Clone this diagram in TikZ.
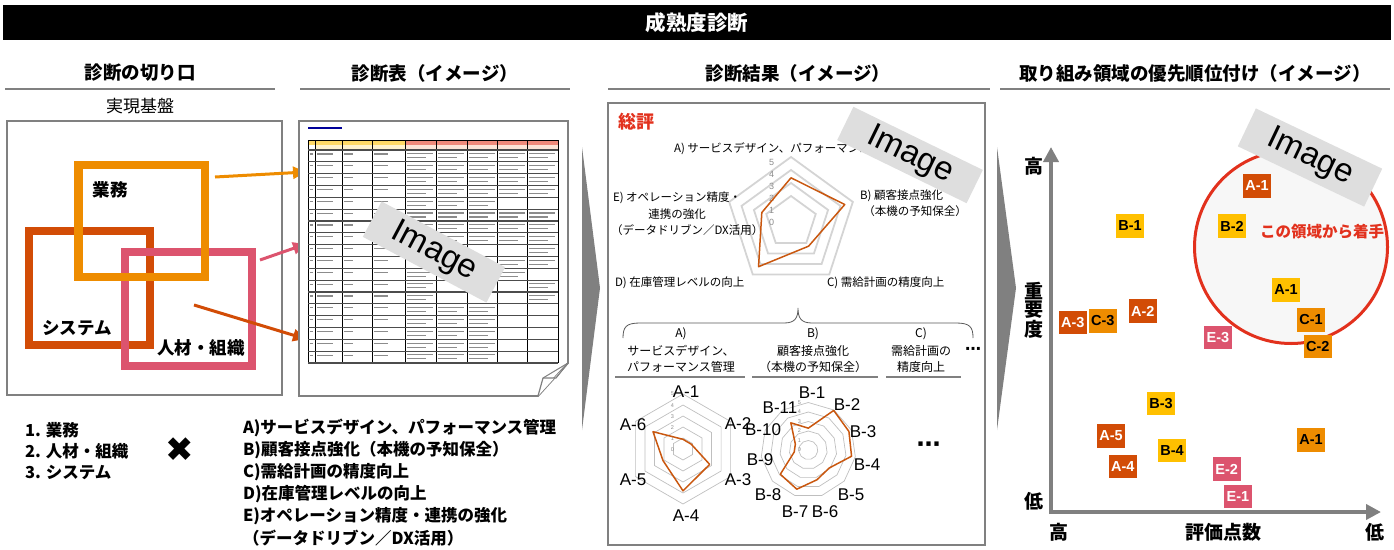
\documentclass[tikz,border=0pt]{standalone}
\usepackage{fontspec}
\setmainfont{Noto Sans CJK JP}
\newfontfamily\lib{Liberation Sans}
\newfontfamily\dejavu{DejaVu Sans}
\usetikzlibrary{arrows.meta}
\definecolor{cOr}{HTML}{EE8C00}
\definecolor{cRd}{HTML}{D24C06}
\definecolor{cPk}{HTML}{DC546E}
\definecolor{cYe}{HTML}{FFC000}
\definecolor{cGr}{HTML}{808080}
\definecolor{cLn}{HTML}{C9570F}
\definecolor{cRed}{HTML}{E2311D}
\definecolor{cHy}{HTML}{FFD966}
\definecolor{cHr}{HTML}{F08A7A}
\definecolor{cHy2}{HTML}{FFF2CC}
\definecolor{cHr2}{HTML}{FCE4D6}
\newcommand{\myfs}[1]{\fontsize{#1}{#1}\selectfont}
\tikzset{
 hdr/.style={font=\bfseries\myfs{18.5}},
 hline/.style={draw=black!50, line width=2pt},
 subline/.style={draw=black!50, line width=1.4pt},
 stamp/.style={fill=black!13, minimum width=140pt, minimum height=40pt, font=\lib\myfs{33}},
 arr/.style={line width=3pt, -{Triangle[length=13pt,width=12pt]}},
 rlab/.style={font=\myfs{11.5}, anchor=west},
 rlabc/.style={font=\myfs{11.5}},
 sublab/.style={font=\myfs{12}},
 alab/.style={font=\lib\myfs{17}},
 tinyA/.style={font=\lib\myfs{5.5}, text=black!45},
 tinyP/.style={font=\lib\myfs{9}, text=black!45},
 dataL/.style={draw=cLn, line width=1.5pt, line join=round},
 ringA/.style={draw=black!25, line width=0.7pt},
 ringP/.style={draw=black!17, line width=1.8pt},
 tag/.style={minimum width=28pt, minimum height=23.5pt, font=\lib\bfseries\myfs{14.5}},
 tagR/.style={tag, fill=cRd, text=white},
 tagY/.style={tag, fill=cYe, text=black},
 tagO/.style={tag, fill=cOr, text=black},
 tagP/.style={tag, fill=cPk, text=white},
 axlab/.style={font=\bfseries\myfs{19}},
 listS/.style={font=\bfseries\myfs{16.5}, anchor=west},
 sqlab/.style={font=\bfseries\myfs{17.5}},
 cellbar/.style={draw=black!45, line width=1.1pt},
 axarr/.style={draw=cGr, line width=4.3pt, -{Triangle[length=15pt,width=15pt]}},
}
\begin{document}
\begin{tikzpicture}[x=1pt,y=-1pt, every node/.style={inner sep=0pt, outer sep=0pt}]
\useasboundingbox (0,0) rectangle (1394,549);
% title bar
\fill[black] (3,5) rectangle (1391,40);
\node[font=\bfseries\myfs{20.5}, text=white] (title) at (697,23) {成熟度診断};
% headers
\node[hdr] (h1) at (140,73) {診断の切り口};
\node[hdr] (h2) at (435,73) {診断表（イメージ）};
\node[hdr] (h3) at (798,73) {診断結果（イメージ）};
\node[hdr] (h4) at (1195,73) {取り組み領域の優先順位付け（イメージ）};
\draw[hline] (5,89) -- (275,89);
\draw[hline] (300,89) -- (570,89);
\draw[hline] (608,89) -- (990,89);
\draw[hline] (1000,89) -- (1390,89);

% ---------- section 1
\node[font=\myfs{17}] (base) at (140,106) {実現基盤};
\draw[draw=black!50, line width=1.5pt] (7,121) rectangle (282,395);
\draw[cRd, line width=8.5pt] (29,231) rectangle (150,345);
\draw[cPk, line width=8pt] (125,252) rectangle (252,366);
\draw[cOr, line width=8.5pt] (78.5,165) rectangle (205,277);
\node[sqlab] (gyomu) at (110,190) {業務};
\node[sqlab] (sys) at (77,328) {システム};
\node[sqlab] (jinzai) at (201,348) {人材・組織};
\coordinate (o1) at (215,177); \coordinate (o2) at (306,172);
\coordinate (p1) at (260,260); \coordinate (p2) at (306,244);
\coordinate (r1) at (194,305); \coordinate (r2) at (306,339);
\draw[arr, cOr] (o1) -- (o2);
\draw[arr, cPk] (p1) -- (p2);
\draw[arr, cRd] (r1) -- (r2);

% bottom list
\node[listS] (l1) at (25,430) {1. 業務};
\node[listS] (l2) at (25,451) {2. 人材・組織};
\node[listS] (l3) at (25,472) {3. システム};
\node[font=\dejavu\myfs{34}] (times) at (180,450) {✖};
\node[listS] (la) at (243,428) {A)サービスデザイン、パフォーマンス管理};
\node[listS] (lb) at (243,450) {B)顧客接点強化（本機の予知保全）};
\node[listS] (lc) at (243,472) {C)需給計画の精度向上};
\node[listS] (ld) at (243,494) {D)在庫管理レベルの向上};
\node[listS] (le) at (243,516) {E)オペレーション精度・連携の強化};
\node[listS] (lf) at (243,538) {（データドリブン／DX活用）};

% ---------- section 2 : document page
\draw[draw=black!50, line width=1.8pt, fill=white] (299,121) -- (568,121) -- (568,363) -- (538,396) -- (299,396) -- cycle;
\draw[draw=black!50, line width=1.2pt, fill=white, line join=round] (538,396) -- (543,378) -- (556,378) -- (568,363);
\draw[draw=black!50, line width=1pt] (543,378) -- (568,363);
\draw[draw=blue!60!black, line width=1.6pt] (308,128) -- (342,128);
\fill[cHy] (308,140) rectangle (405,145);
\fill[cHr] (405,140) rectangle (558,145);
\fill[cHy2] (315,145) rectangle (405,150);
\fill[cHr2] (405,145) rectangle (558,150);
\foreach \x in {308,315,342,372,405,436,467,497,527,558}
  \draw[black, line width=0.8pt] (\x,140) -- (\x,363);
\draw[black, line width=0.6pt] (308,140) -- (558,140);
\foreach \i in {0,...,18}
  \draw[black!70, line width=1.2pt] (308,{150+\i*11.83}) -- (558,{150+\i*11.83});
\foreach \i in {0,...,17} {
  \pgfmathsetmacro\yy{150+\i*11.83+4}
  \draw[cellbar] (309.5,\yy) -- (313,\yy);
  \draw[cellbar] (317,\yy) -- (333,\yy);
  \draw[cellbar] (344,\yy) -- (353,\yy);
  \draw[cellbar] (374,\yy) -- (388,\yy);
}
\foreach \i/\cs in {0/{405,436,467,497,527},1/{405,436,467,497,527},2/{405,436,467,497,527},3/{405,436,467,497,527},4/{405,436,467},5/{405,436,467,497,527},6/{405,436,467,497,527},7/{405,436,467,497,527},8/{527},9/{497,527},10/{405,497},11/{405,527},12/{405,527},13/{405,436,467},14/{405,436,467},15/{405,436,467},16/{405,436,467},17/{405,436,467}} {
  \pgfmathsetmacro\yy{150+\i*11.83+3.8}
  \pgfmathsetmacro\yyb{150+\i*11.83+7.8}
  \foreach \c in \cs {
    \draw[cellbar] (\c+1.5,\yy) -- (\c+28,\yy);
    \draw[cellbar] (\c+1.5,\yyb) -- (\c+21,\yyb);
  }
}
\node[stamp, rotate=-28] (img1) at (434,252) {Image};

% chevrons
\fill[cGr] (582,147) -- (600,288) -- (582,430) -- cycle;
\fill[cGr] (997,147) -- (1016,288) -- (997,430) -- cycle;

% ---------- section 3
\draw[draw=black!50, line width=1.5pt] (608,103) rectangle (985,545);
\node[font=\bfseries\myfs{18}, text=cRed, anchor=west] (sohyo) at (618,122) {総評};
\foreach \r in {2,...,5}
  \draw[ringP] (791,{222-13*\r}) \foreach \k in {1,...,4} {-- ({791+13*\r*sin(72*\k)},{222-13*\r*cos(72*\k)})} -- cycle;
\foreach \v in {0,...,5}
  \node[tinyP] (pv\v) at (771.5,{222-12*\v}) {\v};
\foreach \v [count=\k from 0] in {3.4,4.35,2.3,4.25,2.36}
  \coordinate (T\k) at ({791+13*\v*sin(72*\k)},{222-13*\v*cos(72*\k)});
\draw[dataL] (T0) -- (T1) -- (T2) -- (T3) -- (T4) -- cycle;
\node[rlab] (ra) at (674,149) {A) サービスデザイン、パフォーマンス管理};
\node[rlab] (rb1) at (860,196) {B) 顧客接点強化};
\node[rlabc] (rb2) at (915,211) {（本機の予知保全）};
\node[rlab] (rc) at (827,283) {C) 需給計画の精度向上};
\node[rlab] (rd) at (615,283) {D) 在庫管理レベルの向上};
\node[rlab] (re1) at (613,198) {E) オペレーション精度・};
\node[rlabc] (re2) at (677,214) {連携の強化};
\node[rlab] (re3) at (611,230) {（データドリブン／DX活用）};
\node[stamp, rotate=-26, minimum width=144pt, minimum height=37pt] (img2) at (910,155) {Image};

% brace
\draw[draw=black!65, line width=0.8pt] (623,338) .. controls (623,327) and (626,323) .. (640,323) -- (784,323) .. controls (795,323) and (798,318) .. (798,308) .. controls (798,318) and (801,323) .. (812,323) -- (956,323) .. controls (970,323) and (973,327) .. (973,338);

% sub headers
\node[sublab] (sa1) at (681,334) {A)};
\node[sublab] (sa2) at (681,351) {サービスデザイン、};
\node[sublab] (sa3) at (681,367) {パフォーマンス管理};
\node[sublab] (sb1) at (813,334) {B)};
\node[sublab] (sb2) at (813,351) {顧客接点強化};
\node[sublab] (sb3) at (813,367) {（本機の予知保全）};
\node[sublab] (sc1) at (921,334) {C)};
\node[sublab] (sc2) at (921,351) {需給計画の};
\node[sublab] (sc3) at (921,367) {精度向上};
\node[font=\dejavu\bfseries\myfs{16}] (sdots) at (973,351) {⋯};
\draw[subline] (615,377) -- (745,377);
\draw[subline] (752,377) -- (878,377);
\draw[subline] (886,377) -- (961,377);

% radar A (hexagon)
\foreach \r in {1,...,5}
  \draw[ringA] (683,{449-11*\r}) \foreach \k in {1,...,5} {-- ({683+11*\r*sin(60*\k)},{449-11*\r*cos(60*\k)})} -- cycle;
\foreach \v in {0,...,5}
  \node[tinyA] (av\v) at (672.5,{450-11.2*\v}) {\v};
\foreach \v [count=\k from 0] in {0.88,0.87,2.8,3.8,2.1,3.15}
  \coordinate (HA\k) at ({683+11*\v*sin(60*\k)},{449-11*\v*cos(60*\k)});
\draw[dataL] (HA0) -- (HA1) -- (HA2) -- (HA3) -- (HA4) -- (HA5) -- cycle;
\node[alab] (a1) at (686,392) {A-1};
\node[alab] (a2) at (738,424) {A-2};
\node[alab] (a3) at (738,480) {A-3};
\node[alab] (a4) at (686,516) {A-4};
\node[alab] (a5) at (633,480) {A-5};
\node[alab] (a6) at (633,425) {A-6};

% radar B (11-gon)
\foreach \r in {1,...,5}
  \draw[ringA] (808.3,{450-9.5*\r}) \foreach \k in {1,...,10} {-- ({808.3+9.5*\r*sin(360/11*\k)},{450-9.5*\r*cos(360/11*\k)})} -- cycle;
\foreach \v in {0,...,5}
  \node[tinyA] (bv\v) at (799.3,{450-9.5*\v}) {\v};
\foreach \v [count=\k from 0] in {2.3,4.95,4.7,4.6,2.9,3.26,4.3,3.9,1.5,1.5,3.4}
  \coordinate (HB\k) at ({808.3+9.5*\v*sin(360/11*\k)},{450-9.5*\v*cos(360/11*\k)});
\draw[dataL] (HB0) -- (HB1) -- (HB2) -- (HB3) -- (HB4) -- (HB5) -- (HB6) -- (HB7) -- (HB8) -- (HB9) -- (HB10) -- cycle;
\node[alab] (b1) at (812,393) {B-1};
\node[alab] (b2) at (847,405) {B-2};
\node[alab] (b3) at (863,432) {B-3};
\node[alab] (b4) at (867,465) {B-4};
\node[alab] (b5) at (851,495) {B-5};
\node[alab] (b6) at (825,512) {B-6};
\node[alab] (b7) at (795,512) {B-7};
\node[alab] (b8) at (768,495) {B-8};
\node[alab] (b9) at (760,460) {B-9};
\node[alab] (b10) at (763,430) {B-10};
\node[alab] (b11) at (780,408) {B-11};
\node[font=\dejavu\bfseries\myfs{24}] (bdots) at (928.5,447) {⋯};

% ---------- section 4
\draw[draw=cRed, line width=3pt, fill=black!3] (1291,247) circle (96.5);
\coordinate (yb) at (1051,514); \coordinate (yt) at (1051,147);
\coordinate (xb) at (1049,512); \coordinate (xt) at (1381,512);
\draw[axarr] (yb) -- (yt);
\draw[axarr] (xb) -- (xt);
\node[axlab] (yhi) at (1034,166) {高};
\node[axlab] (yj1) at (1034,291) {重};
\node[axlab] (yj2) at (1034,310) {要};
\node[axlab] (yj3) at (1034,329) {度};
\node[axlab] (ylo) at (1034,501) {低};
\node[axlab] (xhi) at (1059,532) {高};
\node[axlab] (xlab) at (1223,532) {評価点数};
\node[axlab] (xlo) at (1375,532) {低};
\node[font=\bfseries\myfs{15.5}, text=cRed] (start) at (1322,232) {この領域から着手};
\node[tagR] (t1) at (1257,186) {A-1};
\node[tagY] (t2) at (1130,226) {B-1};
\node[tagY] (t3) at (1232,226) {B-2};
\node[tagY] (t4) at (1286,290) {A-1};
\node[tagO] (t5) at (1311,320) {C-1};
\node[tagR] (t6) at (1142.7,311) {A-2};
\node[tagR] (t7) at (1072.7,322.7) {A-3};
\node[tagO] (t8) at (1102.7,321) {C-3};
\node[tagP] (t9) at (1218,337.7) {E-3};
\node[tagO] (t10) at (1317.7,346.7) {C-2};
\node[tagY] (t11) at (1161,403.3) {B-3};
\node[tagR] (t12) at (1111,436) {A-5};
\node[tagY] (t13) at (1172,450.7) {B-4};
\node[tagO] (t14) at (1311,440) {A-1};
\node[tagR] (t15) at (1122.7,466.7) {A-4};
\node[tagP] (t16) at (1226.7,469) {E-2};
\node[tagP] (t17) at (1238,496.7) {E-1};
\node[stamp, rotate=-25.5, minimum height=42pt] (img3) at (1310,157.5) {Image};
\end{tikzpicture}
\end{document}
